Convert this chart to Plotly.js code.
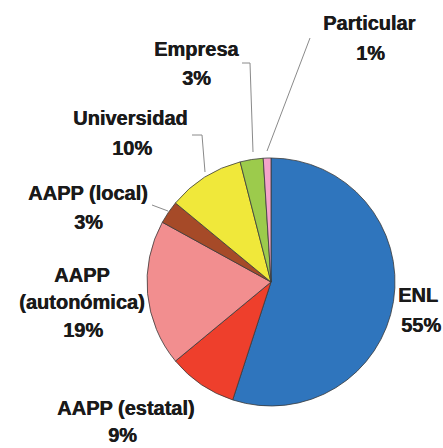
<!DOCTYPE html>
<html>
<head>
<meta charset="utf-8">
<script src="https://cdn.plot.ly/plotly-3.0.1.min.js"></script>
<style>html,body{margin:0;padding:0;background:#fff;}#chart{width:443px;height:448px;}</style>
</head>
<body>
<div id="chart"></div>
<script>
// Data
const categories = ["ENL", "AAPP (estatal)", "AAPP (autonómica)", "AAPP (local)", "Universidad", "Empresa", "Particular"];
const shares = [55, 9, 19, 3, 10, 3, 1];
const percentLabels = ["55%", "9%", "19%", "3%", "10%", "3%", "1%"];
const labelLines = [["ENL"], ["AAPP (estatal)"], ["AAPP", "(autonómica)"], ["AAPP (local)"], ["Universidad"], ["Empresa"], ["Particular"]];
const colors = ["#2F75BD", "#EE3F2C", "#F28E8F", "#A64A28", "#F0E83A", "#9CCB4C", "#F4A4CB"];

// Layout helpers (pixel -> paper)
const W = 443, H = 448;
const px = x => x / W;
const py = y => 1 - y / H;

// label text positions (pixel centers), one per line incl. percentage
const labelPos = [
  [[418, 295], [421, 325]],
  [[125, 408], [123, 435]],
  [[82, 275], [82, 302], [83, 330]],
  [[88, 193], [88, 222]],
  [[130, 118], [132, 148]],
  [[196, 49], [196, 78]],
  [[369, 23], [370, 53]]
];

const annotations = [];
categories.forEach((c, i) => {
  const lines = labelLines[i].concat([percentLabels[i]]);
  lines.forEach((t, j) => {
    const p = labelPos[i][j];
    annotations.push({
      text: t, x: px(p[0]), y: py(p[1]), xref: "paper", yref: "paper",
      xanchor: "center", yanchor: "middle", showarrow: false,
      font: {family: "Liberation Sans, Arial, sans-serif", size: 20, color: "#1a1a1a", weight: "bold",
             shadow: "0.5px 0 0 #1a1a1a"}
    });
  });
});

const leader = pts => ({
  type: "path", xref: "paper", yref: "paper",
  path: pts.map((p, k) => (k ? "L" : "M") + px(p[0]) + "," + py(p[1])).join(" "),
  line: {color: "#8a8a8a", width: 1}
});
const shapes = [
  leader([[267, 151], [310, 38]]),
  leader([[253, 152], [250, 63], [242, 63]]),
  leader([[205, 172], [202, 135], [192, 135]]),
  leader([[168, 211], [152, 205]])
];

const cx = 271, cy = 282, r = 124;
const trace = {
  type: "pie",
  labels: categories,
  values: shares,
  sort: false,
  direction: "clockwise",
  rotation: 0,
  textinfo: "none",
  hoverinfo: "label+percent",
  marker: {colors: colors, line: {color: "#3a3a3a", width: 0.8}},
  domain: {x: [px(cx - r), px(cx + r)], y: [py(cy + r), py(cy - r)]},
  showlegend: false
};

Plotly.newPlot("chart", [trace], {
  width: W, height: H,
  margin: {l: 0, r: 0, t: 0, b: 0},
  paper_bgcolor: "#fff",
  showlegend: false,
  annotations: annotations,
  shapes: shapes
}, {staticPlot: true});
</script>
</body>
</html>
